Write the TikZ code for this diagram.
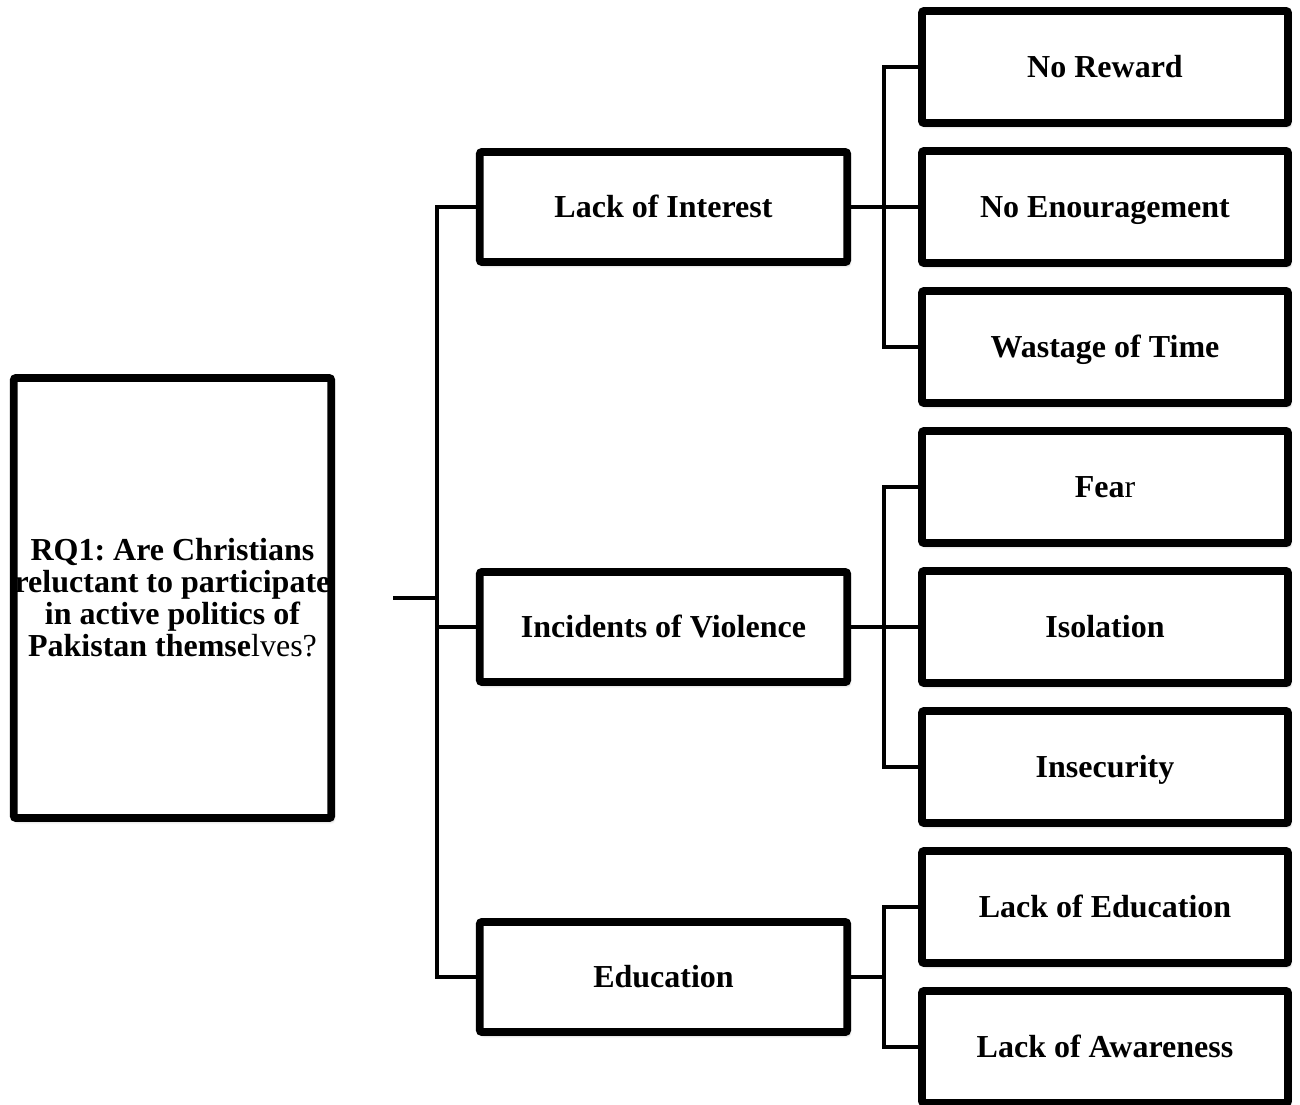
\documentclass[tikz,border=0pt]{standalone}
\usepackage{fontspec}
\setmainfont{Liberation Serif}
\usetikzlibrary{shadows.blur}
\frenchspacing
\begin{document}
\begin{tikzpicture}[x=0.75pt,y=-0.75pt,
  box/.style={draw=black, line width=5.8pt, fill=white, rounded corners=1.5pt,
    align=center, inner sep=0pt,
    font=\fontsize{24pt}{24pt}\selectfont\bfseries,
    blur shadow={shadow xshift=1.5pt, shadow yshift=-2.5pt, shadow blur radius=2pt, shadow opacity=35}},
  rootbox/.style={box, minimum width=238pt, minimum height=330pt},
  midbox/.style={box, minimum width=275.5pt, minimum height=82.5pt, text height=16pt, text depth=0pt},
  leafbox/.style={box, minimum width=274.5pt, minimum height=84pt, text height=16pt, text depth=0pt},
  conn/.style={line width=3pt, line join=miter}]
\useasboundingbox (0,0) rectangle (1300,1104);
\clip (0,0) rectangle (1300,1104);

% root question
\node[rootbox] (root) at (172.5,598) {RQ1: Are Christians\\reluctant to participate\\in active politics of\\Pakistan themse{\mdseries lves?}};

% main themes
\node[midbox] (lint) at (663.5,207) {Lack of Interest};
\node[midbox] (viol) at (663.5,627) {Incidents of Violence};
\node[midbox] (edu)  at (663.5,977) {Education};

% sub-themes
\node[leafbox] (nr)  at (1105,67)   {No Reward};
\node[leafbox] (ne)  at (1105,207)  {No Enouragement};
\node[leafbox] (wt)  at (1105,347)  {Wastage of Time};
\node[leafbox] (fe)  at (1105,487)  {Fea{\mdseries r}};
\node[leafbox] (iso) at (1105,627)  {Isolation};
\node[leafbox] (ins) at (1105,767)  {Insecurity};
\node[leafbox] (le)  at (1105,907)  {Lack of Education};
\node[leafbox] (la)  at (1105,1047) {Lack of Awareness};

% bus junctions
\coordinate (rs) at (393,598);
\coordinate (rb) at (437,598);
\coordinate (b1) at (884,207);
\coordinate (b2) at (884,627);
\coordinate (b3) at (884,977);

% root to main themes
\draw[conn] (rs) -- (rb);
\draw[conn] (lint.west) -| (rb) |- (edu.west);
\draw[conn] (rb |- viol.west) -- (viol.west);

% main themes to sub-themes
\draw[conn] (lint.east) -- (ne.west);
\draw[conn] (nr.west) -| (b1) |- (wt.west);
\draw[conn] (viol.east) -- (iso.west);
\draw[conn] (fe.west) -| (b2) |- (ins.west);
\draw[conn] (edu.east) -- (b3);
\draw[conn] (le.west) -| (b3) |- (la.west);
\end{tikzpicture}
\end{document}
